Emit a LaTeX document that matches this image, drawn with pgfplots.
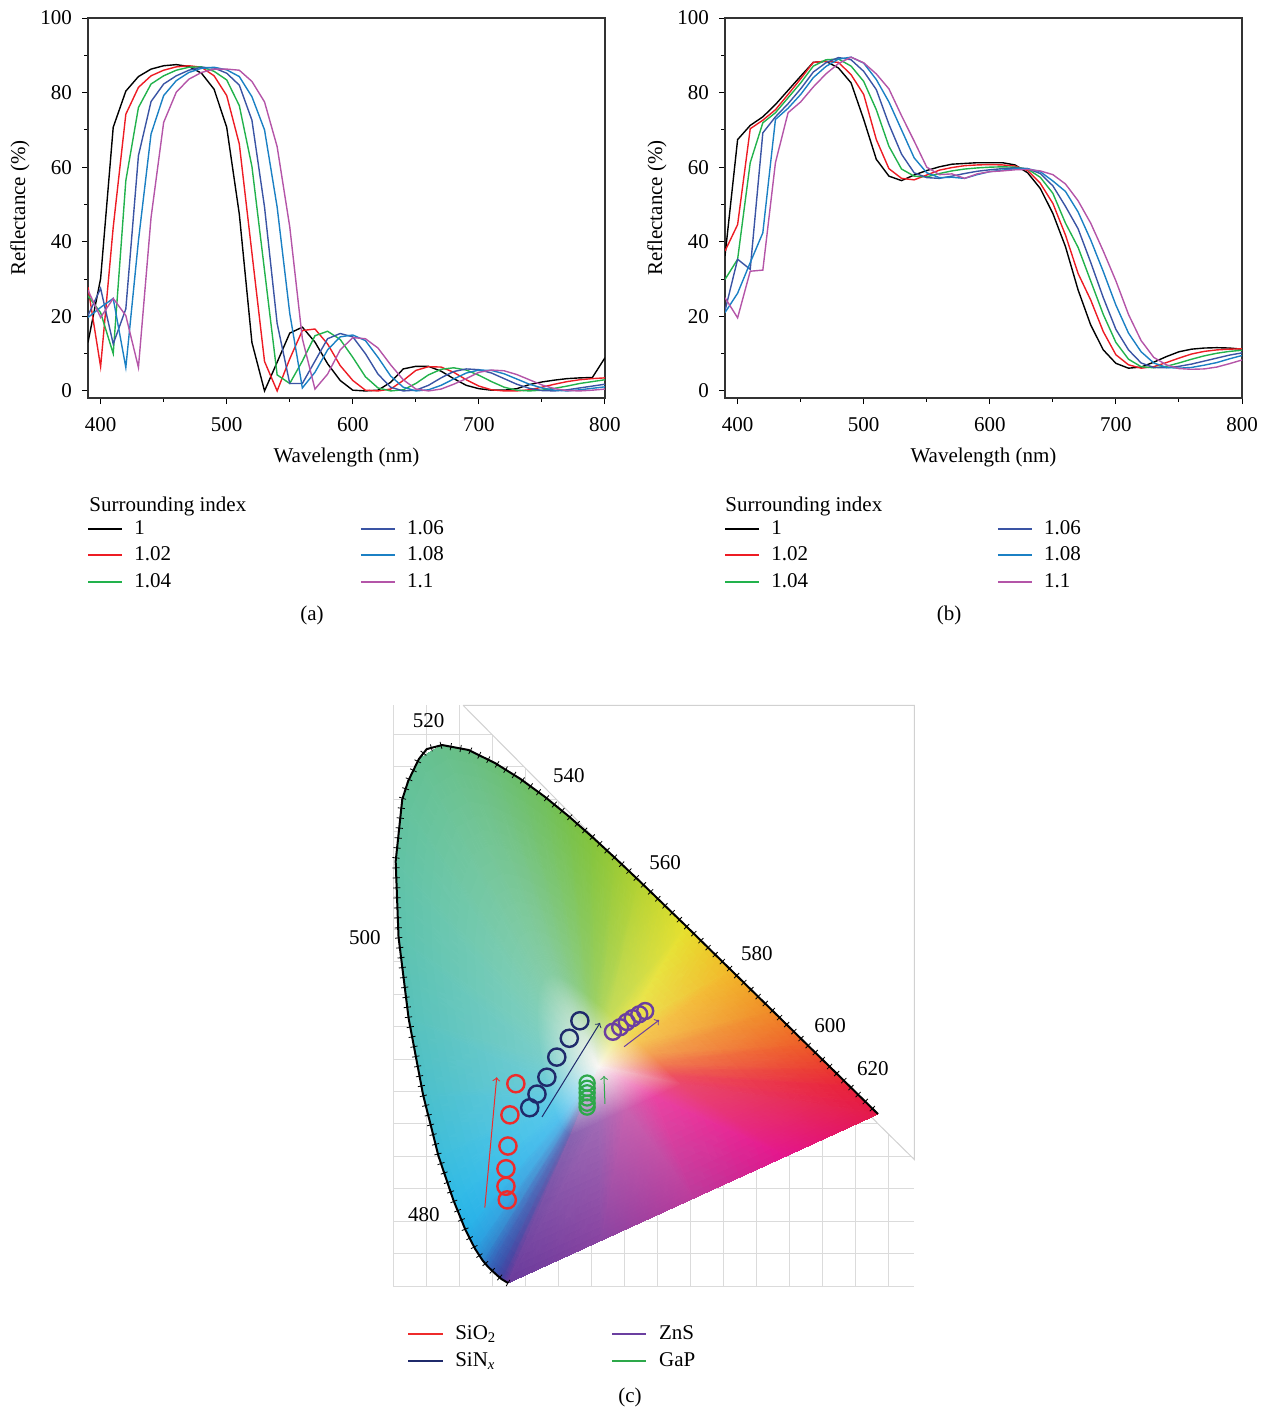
\begin{filecontents*}[overwrite]{cieconn.dat}
0 36 37
0 37 38
0 38 39
0 39 40
0 40 41
0 41 42
0 42 43
0 43 44
0 44 45
0 45 46
0 46 47
0 47 48
0 48 49
0 49 50
0 50 51
0 51 52
0 52 53
0 53 54
0 54 55
0 55 56
0 56 57
0 57 58
0 58 59
0 59 60
0 60 61
0 61 62
0 62 63
0 63 64
0 64 65
0 65 66
0 66 67
0 67 68
0 68 69
0 69 70
0 70 36
1 2 36
36 2 37
2 3 37
37 3 38
3 4 38
38 4 39
4 5 39
39 5 40
5 6 40
40 6 41
6 7 41
41 7 42
7 8 42
42 8 43
8 9 43
43 9 44
9 10 44
44 10 45
10 11 45
45 11 46
11 12 46
46 12 47
12 13 47
47 13 48
13 14 48
48 14 49
14 15 49
49 15 50
15 16 50
50 16 51
16 17 51
51 17 52
17 18 52
52 18 53
18 19 53
53 19 54
19 20 54
54 20 55
20 21 55
55 21 56
21 22 56
56 22 57
22 23 57
57 23 58
23 24 58
58 24 59
24 25 59
59 25 60
25 26 60
60 26 61
26 27 61
61 27 62
27 28 62
62 28 63
28 29 63
63 29 64
29 30 64
64 30 65
30 31 65
65 31 66
31 32 66
66 32 67
32 33 67
67 33 68
33 34 68
68 34 69
34 35 69
69 35 70
35 1 70
70 1 36
\end{filecontents*}
\documentclass[border=0pt]{standalone}
\usepackage{fontspec}
\setmainfont{Liberation Serif}
\usepackage{pgfplots}
\usepackage{pgfplotstable}
\pgfplotsset{compat=1.18}
\usetikzlibrary{decorations.pathreplacing}
\newcommand\ff{\fontsize{10.5}{12.6}\selectfont}

\definecolor{cA}{HTML}{000000}
\definecolor{cB}{HTML}{ED1C24}
\definecolor{cC}{HTML}{22B24C}
\definecolor{cD}{HTML}{3A54A4}
\definecolor{cE}{HTML}{1B80C4}
\definecolor{cF}{HTML}{B455A8}
\definecolor{sio}{HTML}{EE2B2B}
\definecolor{sin}{HTML}{1F2A6B}
\definecolor{zns}{HTML}{6B3FA0}
\definecolor{gap}{HTML}{2DA84A}

% reflectance, panel (a)
\pgfplotstableread{
wl  k1   k2   k3   k4   k5   k6
390 13.0 27.8 25.5 20.2 19.7 27.0
400 30.1 6.5  21.0 27.5 22.4 19.7
410 70.7 43.9 10.0 12.6 24.8 24.8
420 80.4 74.2 56.4 22.0 6.3  20.2
430 84.3 81.4 76.0 63.1 40.3 6.3
440 86.3 84.5 82.3 77.6 68.9 46.5
450 87.2 86.0 84.5 82.3 79.2 72.0
460 87.5 86.9 86.0 84.5 83.2 80.1
470 87.0 87.2 86.8 86.0 85.4 83.6
480 85.2 86.8 86.9 86.8 86.5 85.4
490 80.9 84.5 85.7 86.6 86.8 86.3
500 70.7 79.2 83.4 85.2 86.1 86.3
510 47.4 66.2 76.5 82.0 84.3 86.0
520 13.0 37.0 60.2 72.6 78.9 83.0
530 0.0  7.9  32.3 49.3 70.0 77.5
540 7.7  0.0  4.3  18.1 49.3 65.5
550 15.5 8.6  2.0  2.0  20.8 44.0
560 17.1 16.2 8.0  2.0  0.8  14.0
570 13.1 16.6 14.8 8.0  5.0  0.5
580 7.3  12.6 16.0 14.0 11.0 4.5
590 2.8  6.8  13.8 15.4 14.5 11.0
600 0.2  2.8  9.0  14.5 15.0 14.3
610 0.0  0.2  3.8  10.0 13.5 14.0
620 0.2  0.0  0.8  4.5  9.0  11.5
630 2.3  0.5  0.0  1.0  4.0  7.0
640 5.9  2.8  0.3  0.0  1.0  3.0
650 6.6  5.5  2.0  0.2  0.0  0.5
660 6.6  6.5  4.3  1.5  0.3  0.0
670 5.3  6.4  5.8  3.5  1.5  0.5
680 3.3  5.0  6.2  5.2  3.2  1.8
690 1.5  3.0  5.6  5.9  4.8  3.3
700 0.6  1.3  4.2  5.7  5.6  5.0
710 0.2  0.3  2.5  4.8  5.5  5.6
720 0.2  0.0  1.0  3.3  4.6  5.4
730 0.6  0.0  0.2  1.8  3.2  4.4
740 1.7  0.3  0.0  0.7  1.8  3.0
750 2.4  1.0  0.2  0.1  0.8  1.6
760 2.9  1.8  0.7  0.0  0.2  0.6
770 3.3  2.5  1.3  0.3  0.0  0.1
780 3.5  3.0  2.0  0.8  0.3  0.0
790 3.6  3.3  2.5  1.3  0.7  0.2
800 8.9  3.5  3.0  1.8  1.1  0.5
}\dataA

% reflectance, panel (b)
\pgfplotstableread{
wl  k1   k2   k3   k4   k5   k6
390 36.2 37.5 29.9 21.5 21.0 25.0
400 67.4 44.6 35.3 35.3 26.2 19.6
410 71.2 70.3 61.2 32.6 34.4 32.1
420 73.5 72.6 71.9 69.2 42.4 32.4
430 76.8 75.4 74.6 73.5 72.8 61.2
440 80.6 79.5 78.6 77.0 75.8 74.6
450 84.4 83.7 82.6 81.0 79.5 77.5
460 88.1 88.1 87.1 85.5 84.0 81.5
470 88.4 88.4 88.8 88.0 87.0 85.0
480 86.6 88.1 89.0 89.4 89.0 87.8
490 82.6 84.8 87.1 88.8 89.5 89.5
500 72.8 79.5 83.0 85.7 87.9 88.0
510 62.1 67.4 75.4 80.8 83.5 85.0
520 57.6 59.6 65.6 71.5 77.5 81.0
530 56.4 57.0 59.5 63.5 70.0 73.8
540 57.9 56.6 57.6 58.5 62.5 67.0
550 59.1 57.9 57.4 57.2 58.5 60.0
560 60.1 59.2 58.3 57.0 57.2 58.0
570 60.8 59.9 59.0 57.6 57.3 58.2
580 61.0 60.4 59.5 58.3 57.0 57.0
590 61.2 60.6 59.8 58.9 58.0 58.2
600 61.2 60.7 60.0 59.3 58.8 58.8
610 61.2 60.6 60.1 59.6 59.2 59.0
620 60.6 60.3 60.0 59.8 59.6 59.3
630 58.5 59.1 59.5 59.6 59.6 59.4
640 54.3 55.7 57.3 58.3 58.8 59.0
650 47.6 50.3 53.0 55.0 56.3 58.0
660 38.7 41.8 45.0 49.5 53.5 55.5
670 27.1 31.5 38.5 43.5 48.0 51.0
680 17.7 24.4 29.5 34.5 40.5 45.0
690 11.0 15.9 20.5 25.0 32.0 37.5
700 7.4  9.7  13.0 16.5 23.0 29.5
710 6.1  7.0  8.5  11.0 15.5 20.5
720 6.4  6.1  6.5  7.5  10.5 13.5
730 7.7  6.5  6.2  6.3  7.5  9.0
740 9.2  7.6  6.6  6.2  6.3  7.0
750 10.5 8.8  7.5  6.6  6.1  6.0
760 11.2 9.9  8.5  7.2  6.3  5.8
770 11.5 10.6 9.4  8.0  6.9  5.9
780 11.6 11.0 10.1 8.8  7.6  6.4
790 11.5 11.2 10.6 9.6  8.6  7.3
800 11.2 11.3 10.9 10.2 9.5  8.3
}\dataB

% CIE 1931 diagram: white point (row 0), spectral locus + purple line
% (rows 1-35), inner ring (rows 36-70)
\pgfplotstableread{
x      y      c
0.3120 0.3380 rgb255=250,247,244
0.1741 0.0050 rgb255=106,60,156
0.1644 0.0109 rgb255=70,66,160
0.1566 0.0177 rgb255=58,80,170
0.1440 0.0297 rgb255=52,104,188
0.1355 0.0399 rgb255=46,134,206
0.1241 0.0578 rgb255=42,160,224
0.1096 0.0868 rgb255=40,178,232
0.0913 0.1327 rgb255=48,186,230
0.0687 0.2007 rgb255=62,190,220
0.0454 0.2950 rgb255=76,192,204
0.0235 0.4127 rgb255=88,194,188
0.0082 0.5384 rgb255=94,195,176
0.0039 0.6548 rgb255=98,195,166
0.0139 0.7502 rgb255=100,194,156
0.0389 0.8120 rgb255=102,193,148
0.0743 0.8338 rgb255=104,192,140
0.1142 0.8262 rgb255=106,191,132
0.1547 0.8059 rgb255=108,191,120
0.1929 0.7816 rgb255=110,191,106
0.2296 0.7543 rgb255=114,192,92
0.2658 0.7243 rgb255=120,193,74
0.3016 0.6923 rgb255=132,196,60
0.3373 0.6589 rgb255=154,202,54
0.3731 0.6245 rgb255=180,210,50
0.4441 0.5547 rgb255=230,224,46
0.5125 0.4866 rgb255=242,184,42
0.5752 0.4242 rgb255=240,140,40
0.6270 0.3725 rgb255=238,94,40
0.6658 0.3340 rgb255=234,58,48
0.6915 0.3083 rgb255=232,36,58
0.7190 0.2809 rgb255=230,28,68
0.7347 0.2653 rgb255=228,26,74
0.5946 0.2002 rgb255=228,22,140
0.4544 0.1352 rgb255=188,60,156
0.3143 0.0701 rgb255=138,69,162
0.2692 0.2325 rgb255=136,99,176
0.2663 0.2343 rgb255=107,104,179
0.2640 0.2363 rgb255=97,115,187
0.2602 0.2399 rgb255=93,134,201
0.2577 0.2430 rgb255=88,158,216
0.2542 0.2483 rgb255=85,179,230
0.2499 0.2570 rgb255=83,193,237
0.2444 0.2708 rgb255=89,200,235
0.2376 0.2912 rgb255=101,203,227
0.2306 0.3195 rgb255=112,205,214
0.2241 0.3548 rgb255=121,206,201
0.2195 0.3925 rgb255=126,207,192
0.2182 0.4274 rgb255=129,207,184
0.2212 0.4561 rgb255=131,206,176
0.2287 0.4746 rgb255=133,205,169
0.2393 0.4811 rgb255=134,205,163
0.2513 0.4789 rgb255=136,204,157
0.2634 0.4728 rgb255=137,204,147
0.2749 0.4655 rgb255=139,204,136
0.2859 0.4573 rgb255=142,205,125
0.2967 0.4483 rgb255=147,205,110
0.3075 0.4387 rgb255=157,208,99
0.3182 0.4287 rgb255=174,213,94
0.3289 0.4184 rgb255=195,219,91
0.3502 0.3974 rgb255=235,230,88
0.3708 0.3770 rgb255=245,198,85
0.3896 0.3583 rgb255=243,163,83
0.4051 0.3428 rgb255=241,126,83
0.4167 0.3312 rgb255=238,97,89
0.4245 0.3235 rgb255=237,80,97
0.4327 0.3153 rgb255=235,73,105
0.4374 0.3106 rgb255=233,72,110
0.3954 0.2911 rgb255=233,69,163
0.3533 0.2716 rgb255=201,99,176
0.3113 0.2520 rgb255=161,106,181
}\cie

\pgfplotstableread{
x      y
0.1741 0.0050
0.1644 0.0109
0.1566 0.0177
0.1440 0.0297
0.1355 0.0399
0.1241 0.0578
0.1096 0.0868
0.0913 0.1327
0.0687 0.2007
0.0454 0.2950
0.0235 0.4127
0.0082 0.5384
0.0039 0.6548
0.0139 0.7502
0.0228 0.7782
0.0389 0.8120
0.0509 0.8275
0.0743 0.8338
0.1142 0.8262
0.1547 0.8059
0.1929 0.7816
0.2296 0.7543
0.2658 0.7243
0.3016 0.6923
0.3373 0.6589
0.3731 0.6245
0.4441 0.5547
0.5125 0.4866
0.5752 0.4242
0.6270 0.3725
0.6658 0.3340
0.6915 0.3083
0.7190 0.2809
0.7347 0.2653
}\locus

\pgfplotsset{
  spec/.style={
    width=258.5pt, height=190pt, scale only axis, anchor=south west,
    xmin=390, xmax=800, ymin=-1.9, ymax=100,
    xtick={400,500,...,800}, minor xtick={450,550,650,750},
    ytick={0,20,...,100}, minor ytick={10,30,50,70,90},
    tick align=outside, tick pos=left,
    major tick length=3pt, minor tick length=1.8pt,
    every tick/.style={black, line width=0.5pt},
    axis line style={black!80, line width=0.6pt},
    tick label style={font=\ff}, label style={font=\ff},
    xticklabel style={yshift=-3pt}, yticklabel style={xshift=-1.5pt},
    /pgf/number format/assume math mode=true,
    xlabel={Wavelength (nm)}, ylabel={Reflectance (\%)},
    xlabel style={at={(0.5,-0.156)}, anchor=center},
    ylabel style={at={(-0.1315,0.5)}, anchor=center},
    legend style={at={(-0.002,-0.31)}, anchor=north west, draw=none,
      fill=none, font=\ff, inner sep=0pt, row sep=0.8pt,
      /tikz/every odd column/.append style={column sep=3.5pt},
      /tikz/every even column/.append style={column sep=92.5pt}},
    legend cell align=left, legend columns=2,
    every axis plot/.append style={line width=0.7pt, forget plot},
  },
  specleg/.code={
    \addlegendimage{cA, line width=0.9pt} \addlegendentry{1}
    \addlegendimage{cD, line width=0.9pt} \addlegendentry{1.06}
    \addlegendimage{cB, line width=0.9pt} \addlegendentry{1.02}
    \addlegendimage{cE, line width=0.9pt} \addlegendentry{1.08}
    \addlegendimage{cC, line width=0.9pt} \addlegendentry{1.04}
    \addlegendimage{cF, line width=0.9pt} \addlegendentry{1.1}
  },
}

\begin{document}
\begin{tikzpicture}
\useasboundingbox (0,0) rectangle (633pt,-705pt);

% (a)
\begin{axis}[spec, at={(44pt,-199pt)}]
  \addplot[cA] table[x=wl,y=k1]{\dataA};
  \addplot[cB] table[x=wl,y=k2]{\dataA};
  \addplot[cC] table[x=wl,y=k3]{\dataA};
  \addplot[cD] table[x=wl,y=k4]{\dataA};
  \addplot[cE] table[x=wl,y=k5]{\dataA};
  \addplot[cF] table[x=wl,y=k6]{\dataA};
  \pgfplotsset{specleg}
\end{axis}

% (b)
\begin{axis}[spec, at={(362.5pt,-199pt)}]
  \addplot[cA] table[x=wl,y=k1]{\dataB};
  \addplot[cB] table[x=wl,y=k2]{\dataB};
  \addplot[cC] table[x=wl,y=k3]{\dataB};
  \addplot[cD] table[x=wl,y=k4]{\dataB};
  \addplot[cE] table[x=wl,y=k5]{\dataB};
  \addplot[cF] table[x=wl,y=k6]{\dataB};
  \pgfplotsset{specleg}
\end{axis}

\node[font=\ff, anchor=west, inner sep=0pt] at (44.5pt,-253pt) {Surrounding index};
\node[font=\ff, anchor=west, inner sep=0pt] at (362.5pt,-253pt) {Surrounding index};
\node[font=\ff] at (156pt,-307.5pt) {(a)};
\node[font=\ff] at (474.5pt,-307.5pt) {(b)};

% (c)
\begin{axis}[at={(196.55pt,-643.1pt)}, anchor=south west,
    width=260.7pt, height=290.45pt, scale only axis,
    xmin=0, xmax=0.79, ymin=0, ymax=0.895, clip=false,
    axis line style={draw=none},
    xtick={0,0.05,...,0.78}, ytick={0,0.05,...,0.89},
    xticklabels={}, yticklabels={}, major tick length=0pt,
    grid=major, major grid style={black!14, line width=0.5pt},
    legend style={at={(0.027,-0.06)}, anchor=north west, draw=none,
      fill=none, font=\ff, inner sep=0pt, row sep=1pt,
      /tikz/every odd column/.append style={column sep=4pt},
      /tikz/every even column/.append style={column sep=55.5pt}},
    legend cell align=left, transpose legend, legend columns=2,
  ]
  \addplot[forget plot, fill=white, draw=black!18, line width=0.5pt] coordinates {
    (0.106,0.895) (0.79,0.895) (0.79,0.195) (0.738,0.247) (0.106,0.895)};
  \addplot[forget plot, patch, shader=interp, mesh/color input=explicit,
    patch table=cieconn.dat] table[x=x, y=y, meta=c] {\cie};
  \addplot[forget plot, black, line width=0.4pt,
    decoration={ticks, segment length=5pt, amplitude=1.8pt}, decorate]
    table[x=x,y=y] {\locus};
  \addplot[forget plot, black, line width=1pt, line join=round] table[x=x,y=y] {\locus};

  % chromaticity of the samples
  \addplot[forget plot, only marks, mark=o, mark size=4.3pt, sio, line width=1.2pt]
    coordinates {(0.186,0.312) (0.177,0.264) (0.174,0.216) (0.171,0.181) (0.171,0.154) (0.173,0.133)};
  \addplot[forget plot, only marks, mark=o, mark size=4.3pt, sin, line width=1.2pt]
    coordinates {(0.207,0.275) (0.218,0.296) (0.233,0.322) (0.248,0.353) (0.267,0.382) (0.283,0.409)};
  \addplot[forget plot, only marks, mark=o, mark size=4pt, zns, line width=1.2pt]
    coordinates {(0.333,0.392) (0.344,0.399) (0.354,0.407) (0.363,0.413) (0.373,0.419) (0.382,0.424)};
  \addplot[forget plot, only marks, mark=o, mark size=3.8pt, gap, line width=1.1pt]
    coordinates {(0.294,0.313) (0.294,0.305) (0.294,0.298) (0.294,0.290) (0.294,0.282) (0.294,0.276)};

  % shift arrows
  \addplot[forget plot, sio, line width=0.5pt, ->] coordinates {(0.139,0.121) (0.157,0.322)};
  \addplot[forget plot, sin, line width=0.5pt, ->] coordinates {(0.2256,0.2608) (0.3135,0.4056)};
  \addplot[forget plot, zns, line width=0.5pt, ->] coordinates {(0.350,0.369) (0.403,0.410)};
  \addplot[forget plot, gap, line width=0.5pt, ->] coordinates {(0.321,0.281) (0.3195,0.324)};

  \node[font=\ff] at (axis cs:0.054,0.872) {520};
  \node[font=\ff] at (axis cs:0.2665,0.786) {540};
  \node[font=\ff] at (axis cs:0.412,0.652) {560};
  \node[font=\ff] at (axis cs:0.551,0.513) {580};
  \node[font=\ff] at (axis cs:0.662,0.401) {600};
  \node[font=\ff] at (axis cs:0.727,0.336) {620};
  \node[font=\ff] at (axis cs:-0.0426,0.537) {500};
  \node[font=\ff] at (axis cs:0.0468,0.110) {480};

  \addlegendimage{sio, line width=0.8pt} \addlegendentry{SiO\textsubscript{2}}
  \addlegendimage{sin, line width=0.8pt} \addlegendentry{SiN\textsubscript{\textit{x}}}
  \addlegendimage{zns, line width=0.8pt} \addlegendentry{ZnS}
  \addlegendimage{gap, line width=0.8pt} \addlegendentry{GaP}
\end{axis}
\node[font=\ff] at (315pt,-698.5pt) {(c)};
\end{tikzpicture}
\end{document}
